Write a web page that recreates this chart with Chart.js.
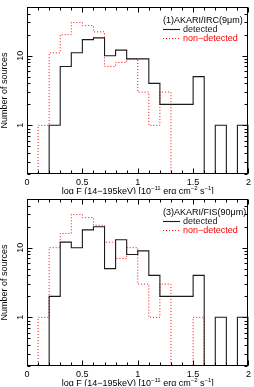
<!DOCTYPE html>
<html>
<head>
<meta charset="utf-8">
<script src="https://cdn.jsdelivr.net/npm/chart.js@4.4.1/dist/chart.umd.min.js"></script>
<style>
body { margin: 0; background: #fff; }
.panel { position: absolute; left: 0; width: 254px; height: 194px; }
</style>
</head>
<body>
<div class="panel" style="top:0px"><canvas id="irc9"></canvas></div>
<div class="panel" style="top:192px"><canvas id="fis90"></canvas></div>
<script>
// histogram bins of log F (14-195keV), width 0.1
var binEdges = [0, 0.1, 0.2, 0.3, 0.4, 0.5, 0.6, 0.7, 0.8, 0.9, 1.0,
                1.1, 1.2, 1.3, 1.4, 1.5, 1.6, 1.7, 1.8, 1.9, 2.0];

// (1) AKARI/IRC 9um
var irc9Detected    = [0, 0, 1, 7, 11, 17, 18, 10, 12, 9, 9, 4, 2, 2, 2, 5, 0, 1, 0, 1];
var irc9NonDetected = [0, 1, 11, 20, 30, 27, 22, 7, 8, 9, 3, 1, 3, 0, 0, 0, 0, 0, 0, 0];

// (3) AKARI/FIS 90um
var fis90Detected    = [0, 0, 2, 12, 10, 18, 20, 5, 13, 8, 9, 4, 2, 2, 2, 4, 0, 1, 0, 1];
var fis90NonDetected = [0, 1, 10, 16, 30, 27, 21, 12, 7, 10, 3, 1, 3, 0, 0, 1, 0, 0, 0, 0];

var xTicks = [0, 0.5, 1, 1.5, 2];
var yTickLabels = [1, 10];
var yMin = 0.2, yMax = 50;

var FONT = "'Liberation Sans', Arial, Helvetica, sans-serif";
var xTitleParts = [
  ['log F (14\u2212195keV) [10', 0], ['\u221211', 1], [' erg cm', 0],
  ['\u22122', 1], [' s', 0], ['\u22121', 1], [']', 0]
];

// step points, empty bins sit on the axis floor
function steps(counts) {
  var pts = [];
  for (var i = 0; i < counts.length; i++) {
    pts.push({ x: binEdges[i], y: counts[i] > 0 ? counts[i] : yMin });
  }
  pts.push({ x: binEdges[counts.length], y: yMin });
  return pts;
}

var framePlugin = {
  id: 'frame',
  afterDraw: function(chart, args, opts) {
    var ctx = chart.ctx, a = chart.chartArea;
    var xs = chart.scales.x, ys = chart.scales.y;
    var L = Math.round(a.left) + 0.5, R = Math.round(a.right) - 0.5;
    var T = Math.round(a.top) + 0.5, B = Math.round(a.bottom) - 0.5;
    ctx.save();
    ctx.strokeStyle = '#000';
    ctx.lineWidth = 1;
    ctx.strokeRect(L, T, R - L, B - T);

    // inner ticks on x
    ctx.beginPath();
    for (var k = 0; k <= 20; k++) {
      var px = Math.round(xs.getPixelForValue(k / 10)) + 0.5;
      var len = k % 5 === 0 ? 5 : 3;
      ctx.moveTo(px, B); ctx.lineTo(px, B - len);
      ctx.moveTo(px, T); ctx.lineTo(px, T + len);
    }
    // inner ticks on y (log)
    [0.1, 1, 10].forEach(function(d) {
      for (var m = 1; m <= 9; m++) {
        var v = m * d;
        if (v < yMin - 1e-9 || v > yMax + 1e-9) continue;
        var py = Math.round(ys.getPixelForValue(v)) + 0.5;
        var len = m === 1 ? 5 : 3;
        ctx.moveTo(L, py); ctx.lineTo(L + len, py);
        ctx.moveTo(R, py); ctx.lineTo(R - len, py);
      }
    });
    ctx.stroke();

    // y tick labels, rotated
    ctx.fillStyle = '#000';
    ctx.font = '9px ' + FONT;
    ctx.textAlign = 'center';
    ctx.textBaseline = 'middle';
    yTickLabels.forEach(function(v) {
      ctx.save();
      ctx.translate(20.5, ys.getPixelForValue(v));
      ctx.rotate(-Math.PI / 2);
      ctx.fillText(String(v), 0, 0);
      ctx.restore();
    });
    // y title
    ctx.save();
    ctx.translate(5, (a.top + a.bottom) / 2);
    ctx.rotate(-Math.PI / 2);
    ctx.fillText('Number of sources', 0, 0);
    ctx.restore();

    // x title with superscripts
    var total = 0;
    xTitleParts.forEach(function(p) {
      ctx.font = (p[1] ? '6px ' : '9px ') + FONT;
      p.w = ctx.measureText(p[0]).width;
      total += p.w;
    });
    var x = (a.left + a.right) / 2 - total / 2, ty = a.bottom + 17.5;
    ctx.textAlign = 'left';
    xTitleParts.forEach(function(p) {
      ctx.font = (p[1] ? '6px ' : '9px ') + FONT;
      ctx.fillText(p[0], x, p[1] ? ty - 3 : ty);
      x += p.w;
    });

    // legend
    var lx = 163, top = a.top;
    ctx.font = '9px ' + FONT;
    ctx.fillStyle = '#000';
    ctx.fillText(opts.title, lx, top + 13.5);
    chart.data.datasets.forEach(function(ds, i) {
      var y = Math.round(top + 22 + i * 8.5) + 0.5;
      ctx.beginPath();
      ctx.strokeStyle = ds.borderColor;
      ctx.lineWidth = ds.borderWidth;
      ctx.setLineDash(ds.borderDash || []);
      ctx.moveTo(lx, y); ctx.lineTo(lx + 17, y);
      ctx.stroke();
      ctx.setLineDash([]);
      ctx.fillStyle = ds.borderColor;
      ctx.fillText(ds.label, lx + 20, y);
    });
    ctx.restore();
  }
};

function makeChart(id, title, det, non) {
  return new Chart(document.getElementById(id), {
    type: 'line',
    data: {
      datasets: [{
        label: 'detected',
        data: steps(det),
        stepped: 'before',
        borderColor: '#1a1a1a',
        borderWidth: 1.1,
        pointRadius: 0,
        fill: false
      },
      {
        label: 'non\u2212detected',
        data: steps(non),
        stepped: 'before',
        borderColor: '#ff0000',
        borderWidth: 1,
        borderDash: [1, 2],
        pointRadius: 0,
        fill: false
      }]
    },
    options: {
      responsive: true,
      maintainAspectRatio: false,
      animation: false,
      layout: { padding: { top: 7, right: 3, left: 0, bottom: 0 } },
      plugins: {
        legend: { display: false },
        tooltip: { enabled: false },
        frame: { title: title }
      },
      scales: {
        x: {
          type: 'linear',
          min: 0,
          max: 2,
          afterFit: function(s) { s.height = 20; },
          afterBuildTicks: function(s) { s.ticks = xTicks.map(function(v) { return { value: v }; }); },
          grid: { display: false, drawTicks: false },
          border: { display: false },
          ticks: {
            autoSkip: false,
            maxRotation: 0,
            padding: 3,
            color: '#000',
            font: { family: FONT, size: 9 },
            callback: function(v) { return String(v); }
          }
        },
        y: {
          type: 'logarithmic',
          min: yMin,
          max: yMax,
          afterFit: function(s) { s.width = 27; },
          grid: { display: false, drawTicks: false },
          border: { display: false },
          ticks: { display: false }
        }
      }
    },
    plugins: [framePlugin]
  });
}

makeChart('irc9', '(1)AKARI/IRC(9\u03bcm)', irc9Detected, irc9NonDetected);
makeChart('fis90', '(3)AKARI/FIS(90\u03bcm)', fis90Detected, fis90NonDetected);
</script>
</body>
</html>
